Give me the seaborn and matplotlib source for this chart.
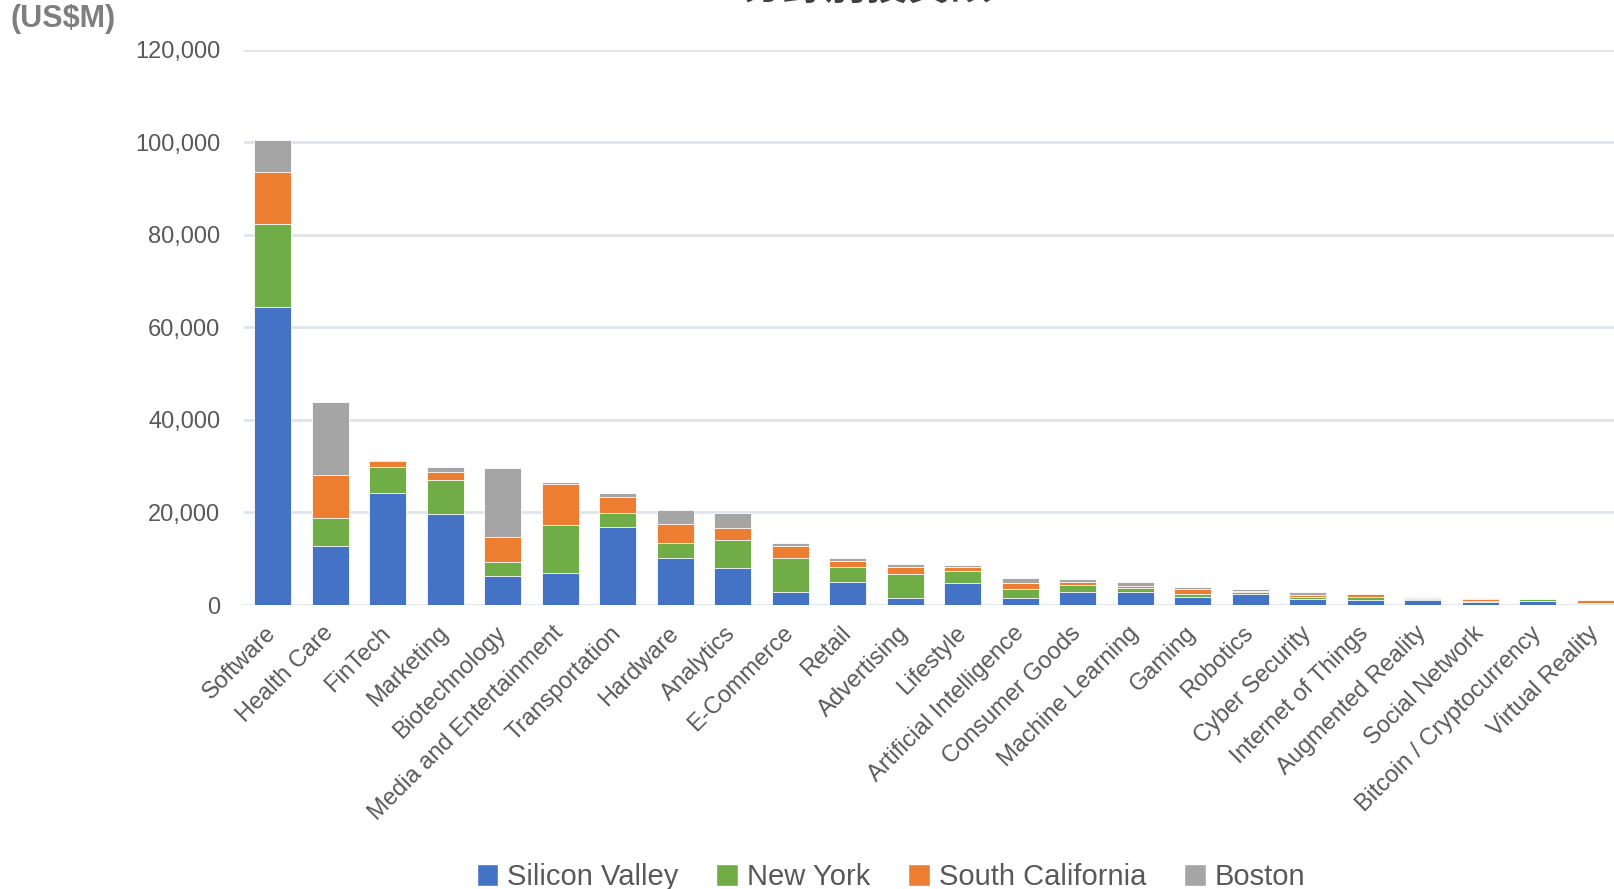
import matplotlib
matplotlib.use("Agg")
import matplotlib.pyplot as plt
from matplotlib.patches import Patch
import numpy as np
import pandas as pd
import seaborn as sns

categories = ["Software", "Health Care", "FinTech", "Marketing", "Biotechnology",
              "Media and Entertainment", "Transportation", "Hardware", "Analytics",
              "E-Commerce", "Retail", "Advertising", "Lifestyle", "Artificial Intelligence",
              "Consumer Goods", "Machine Learning", "Gaming", "Robotics", "Cyber Security",
              "Internet of Things", "Augmented Reality", "Social Network",
              "Bitcoin / Cryptocurrency", "Virtual Reality"]
silicon_valley = [64400, 12800, 24150, 19600, 6300, 7000, 16900, 10200, 7900, 2750, 5000, 1450,
                  4750, 1500, 2750, 2800, 1750, 2450, 1400, 1150, 1000, 650, 800, 300]
new_york = [17800, 6100, 5750, 7400, 2900, 10300, 2900, 3100, 6100, 7500, 3250, 5200,
            2500, 1900, 1500, 950, 700, 350, 300, 500, 200, 300, 450, 100]
south_california = [11400, 9100, 1100, 1700, 5500, 8800, 3600, 4300, 2650, 2600, 1250, 1500,
                    1000, 1300, 800, 350, 950, 300, 450, 650, 350, 350, 50, 600]
boston = [6800, 15800, 350, 1200, 14900, 550, 700, 2900, 3250, 500, 700, 650,
          300, 1200, 600, 850, 550, 300, 650, 150, 150, 150, 100, 100]

series = ["Silicon Valley", "New York", "South California", "Boston"]
colors = ["#4472C4", "#70AD47", "#ED7D31", "#A5A5A5"]

df = pd.DataFrame({"category": categories, "Silicon Valley": silicon_valley,
                   "New York": new_york, "South California": south_california,
                   "Boston": boston})
# cumulative sums, drawn tallest first so they look stacked
cum = df[series].cumsum(axis=1)

sns.set_style("white")
plt.rcParams["font.family"] = ["Liberation Sans", "Noto Sans CJK JP", "DejaVu Sans"]

fig = plt.figure(figsize=(16.14, 8.89), dpi=100)
ax = fig.add_axes([244 / 1614, 1 - 605 / 889, (1624 - 244) / 1614, (605 - 49.5) / 889])

for s, c in reversed(list(zip(series, colors))):
    sns.barplot(x=df["category"], y=cum[s], color=c, saturation=1, width=0.65,
                edgecolor="white", linewidth=0.6, ax=ax, order=categories, zorder=3)

ax.set_ylim(0, 120000)
ax.set_xlim(-0.5, len(categories) - 0.5)
ax.set_yticks(np.arange(0, 120001, 20000))
ax.set_yticklabels([f"{v:,}" for v in range(0, 120001, 20000)])
ax.grid(axis="y", color="#dfe3eb", linewidth=2, zorder=0)
ax.grid(axis="x", visible=False)
for sp in ax.spines.values():
    sp.set_visible(False)
ax.set_xlabel("")
ax.set_ylabel("")
ax.tick_params(axis="y", length=0, pad=17, labelsize=17, labelcolor="#595959")
ax.tick_params(axis="x", length=0, pad=18, labelsize=17, labelcolor="#595959")
plt.setp(ax.get_xticklabels(), rotation=45, ha="right", va="center", rotation_mode="anchor")

fig.text(10 / 1614, 1 - 19 / 889, "(US$M)", fontsize=22, fontweight="bold",
         color="#7F7F7F", ha="left", va="center")
fig.text(866 / 1614, 1 - 8 / 889, "分野別投資額", fontsize=30, fontweight="bold",
         color="#404040", ha="center", va="bottom",
         family=["Noto Sans CJK JP", "DejaVu Sans"])

handles = [Patch(facecolor=c, label=s) for s, c in zip(series, colors)]
fig.legend(handles=handles, loc="center", bbox_to_anchor=(891 / 1614, 1 - 877 / 889),
           ncol=4, frameon=False, fontsize=21, handlelength=0.75, handleheight=0.75,
           handletextpad=0.3, columnspacing=1.3, labelcolor="#595959")

fig.savefig("out.png", dpi=100)
